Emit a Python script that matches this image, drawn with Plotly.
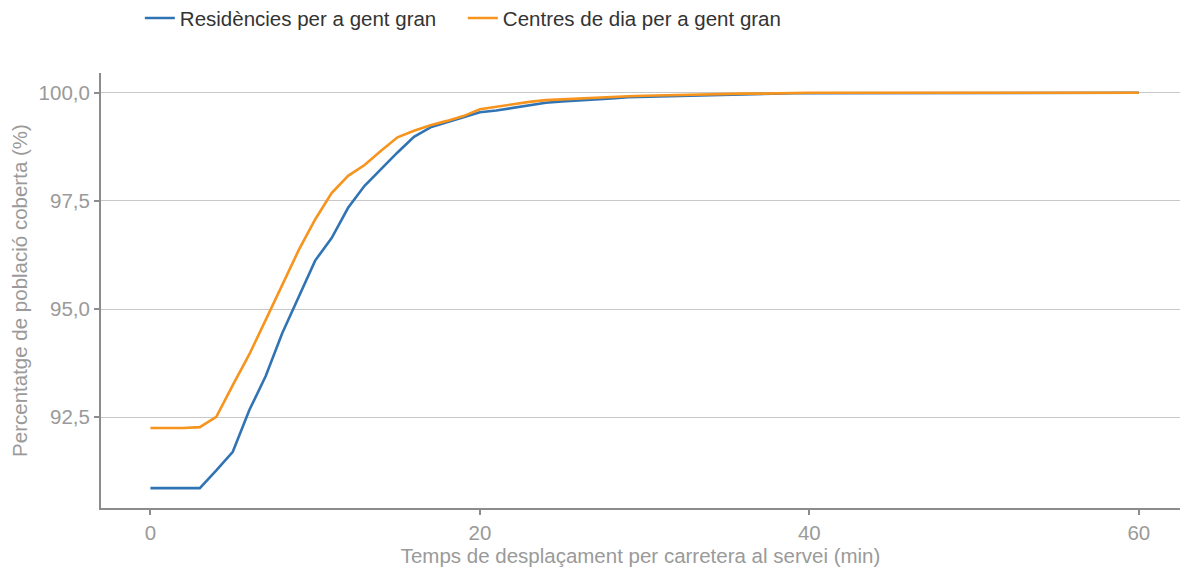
import plotly.graph_objects as go

minutes = list(range(0, 61))

residencies = [90.86, 90.86, 90.86, 90.86, 91.27, 91.70, 92.66, 93.45, 94.44, 95.29,
               96.12, 96.64, 97.34, 97.85, 98.24, 98.62, 98.98, 99.20, 99.32, 99.44,
               99.55, 99.59, 99.65, 99.72, 99.77, 99.80, 99.82, 99.84, 99.87, 99.90,
               99.91, 99.92, 99.92, 99.93, 99.94, 99.96, 99.97, 99.98, 99.99, 99.99,
               99.99, 99.99, 99.99, 99.99, 100.0, 100.0, 100.0, 100.0, 100.0, 100.0,
               100.0, 100.0, 100.0, 100.0, 100.0, 100.0, 100.0, 100.0, 100.0, 100.0,
               100.0]

centres_dia = [92.25, 92.25, 92.25, 92.27, 92.51, 93.24, 93.95, 94.75, 95.56, 96.36,
               97.07, 97.68, 98.08, 98.33, 98.66, 98.97, 99.12, 99.25, 99.35, 99.46,
               99.62, 99.68, 99.74, 99.79, 99.83, 99.85, 99.87, 99.89, 99.91, 99.92,
               99.93, 99.94, 99.95, 99.96, 99.97, 99.97, 99.98, 99.98, 99.99, 99.99,
               100.0, 100.0, 100.0, 100.0, 100.0, 100.0, 100.0, 100.0, 100.0, 100.0,
               100.0, 100.0, 100.0, 100.0, 100.0, 100.0, 100.0, 100.0, 100.0, 100.0,
               100.0]

series_names = ["Residències per a gent gran", "Centres de dia per a gent gran"]
series_colors = ["#3174b4", "#f7941d"]

y_tickvals = [92.5, 95.0, 97.5, 100.0]
y_ticktext = ["92,5", "95,0", "97,5", "100,0"]
x_tickvals = [0, 20, 40, 60]
x_ticktext = ["0", "20", "40", "60"]

x_title = "Temps de desplaçament per carretera al servei (min)"
y_title = "Percentatge de població coberta (%)"

FONT = "Liberation Sans, Arial, sans-serif"
FS = 20.5
GREY_TXT = "#9a9a9a"
AXIS = "#8c8c8c"

fig = go.Figure()
for name, vals, col in zip(series_names, [residencies, centres_dia], series_colors):
    fig.add_trace(go.Scatter(x=minutes, y=vals, mode="lines", name=name,
                             line=dict(color=col, width=2.6)))

fig.update_layout(
    width=1180, height=569,
    paper_bgcolor="white", plot_bgcolor="white",
    margin=dict(l=101, r=0, t=73, b=61, autoexpand=False),
    font=dict(family=FONT, size=FS, color=GREY_TXT),
    showlegend=True,
    legend=dict(orientation="h", x=0.036, xanchor="left", y=1.126, yanchor="middle",
                font=dict(family=FONT, size=FS, color="#333333"),
                entrywidth=278, tracegroupgap=0, bgcolor="rgba(0,0,0,0)"),
    xaxis=dict(range=[-3, 62.5], tickvals=x_tickvals, ticktext=x_ticktext,
               showgrid=False, zeroline=False, showline=True, linecolor=AXIS, linewidth=2,
               ticks="outside", ticklen=5, tickwidth=2, tickcolor=AXIS,
               tickfont=dict(size=FS, color=GREY_TXT),
               title=dict(text=x_title, font=dict(size=FS, color=GREY_TXT), standoff=2)),
    yaxis=dict(range=[90.40, 100.457], tickvals=y_tickvals, ticktext=y_ticktext,
               showgrid=True, gridcolor="#c8c8c8", gridwidth=1, zeroline=False,
               showline=True, linecolor=AXIS, linewidth=2,
               ticks="outside", ticklen=5, tickwidth=2, tickcolor=AXIS,
               tickfont=dict(size=FS, color=GREY_TXT),
               title=dict(text=y_title, font=dict(size=FS, color=GREY_TXT), standoff=5)),
)

fig.write_html("out.html",
               config={"displayModeBar": False},
               post_script="document.body.style.margin='0';document.body.style.overflow='hidden';")
